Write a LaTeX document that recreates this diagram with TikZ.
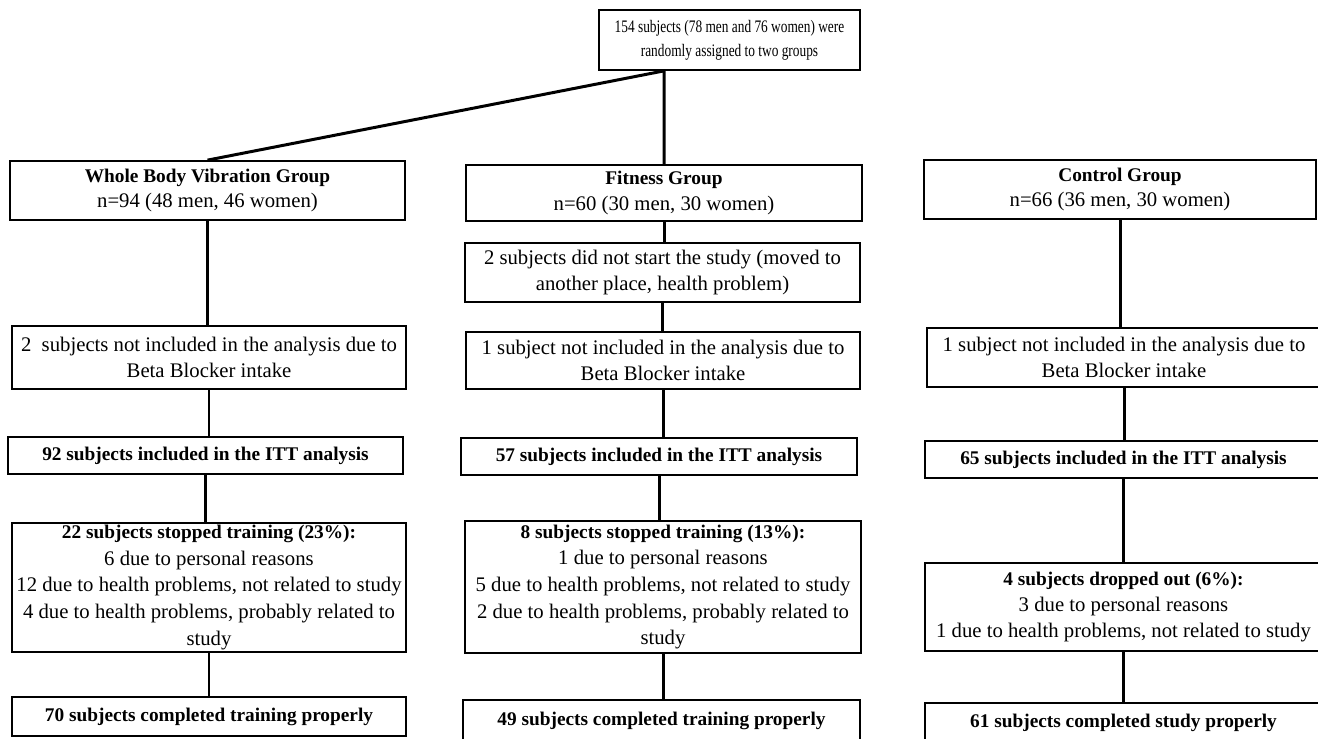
\documentclass[tikz,border=0pt]{standalone}
\usepackage{fontspec}
\setmainfont{Liberation Serif}
\newfontfamily\narrowfont[FakeStretch=0.76]{Liberation Serif}
\usepackage{tikz}
\usetikzlibrary{positioning}
\usepackage{xcolor}

\newcommand{\regfont}{\fontsize{11.8}{14.7}\selectfont}
\newcommand{\hd}[1]{{\fontsize{11}{14.7}\selectfont\bfseries #1}}

\tikzset{
  box/.style={draw,line width=1pt,inner sep=0pt,align=center,font=\regfont},
  link/.style={line width=1.7pt},
}

\begin{document}
\begin{tikzpicture}[x=0.02cm,y=-0.02cm]
\useasboundingbox (0,0) rectangle (1318,738);
% top
\node[box,minimum width=5.22cm,minimum height=1.2cm,font=\narrowfont\fontsize{10}{13.6}\selectfont] (top) at (729.5,40) {154 subjects (78 men and 76 women) were\\randomly assigned to two groups};
% whole body vibration
\node[box,minimum width=7.9cm,minimum height=1.18cm] (g1) at (207.5,190.5) {\hd{Whole Body Vibration Group}\\n=94 (48 men, 46 women)};
\node[box,minimum width=7.88cm,minimum height=1.26cm] (a1) at (209,357.5) {2\ \ subjects not included in the analysis due to\\Beta Blocker intake};
\node[box,minimum width=7.9cm,minimum height=0.74cm] (i1) at (205.5,455.5) {\hd{92 subjects included in the ITT analysis}};
\node[box,minimum width=7.88cm,minimum height=2.58cm,font=\fontsize{11.8}{15.1}\selectfont] (s1) at (209,587.5) {\hd{22 subjects stopped training (23\%):}\\6 due to personal reasons\\12 due to health problems, not related to study\\4 due to health problems, probably related to\\study};
\node[box,minimum width=7.88cm,minimum height=0.78cm] (c1) at (209,716.5) {\hd{70 subjects completed training properly}};
% fitness
\node[box,minimum width=7.92cm,minimum height=1.12cm] (g2) at (664,193) {\hd{Fitness Group}\\n=60 (30 men, 30 women)};
\node[box,minimum width=7.9cm,minimum height=1.18cm] (d2) at (662.5,272.5) {2 subjects did not start the study (moved to\\another place, health problem)};
\node[box,minimum width=7.88cm,minimum height=1.14cm] (a2) at (663,360.5) {1 subject not included in the analysis due to\\Beta Blocker intake};
\node[box,minimum width=7.92cm,minimum height=0.74cm] (i2) at (659,456.5) {\hd{57 subjects included in the ITT analysis}};
\node[box,minimum width=7.92cm,minimum height=2.64cm,font=\fontsize{11.8}{15.1}\selectfont] (s2) at (663,587) {\hd{8 subjects stopped training (13\%):}\\1 due to personal reasons\\5 due to health problems, not related to study\\2 due to health problems, probably related to\\study};
\node[box,minimum width=7.94cm,minimum height=0.84cm] (c2) at (661.5,721) {\hd{49 subjects completed training properly}};
% control
\node[box,minimum width=7.84cm,minimum height=1.18cm] (g3) at (1120,189.5) {\hd{Control Group}\\n=66 (36 men, 30 women)};
\node[box,minimum width=7.88cm,minimum height=1.18cm] (a3) at (1124,357.5) {1 subject not included in the analysis due to\\Beta Blocker intake};
\node[box,minimum width=7.94cm,minimum height=0.74cm] (i3) at (1123.5,459.5) {\hd{65 subjects included in the ITT analysis}};
\node[box,minimum width=7.94cm,minimum height=1.76cm] (s3) at (1123.5,607) {\hd{4 subjects dropped out (6\%):}\\3 due to personal reasons\\1 due to health problems, not related to study};
\node[box,minimum width=7.94cm,minimum height=0.8cm] (c3) at (1123.5,723) {\hd{61 subjects completed study properly}};
% connectors
\coordinate (split) at (top.south -| g2.north);
\draw[link] (g1.north) -- (split) -- (g2.north);
\foreach \u/\v in {g1/a1,a1/i1,i1/s1,s1/c1,g2/d2,d2/a2,a2/i2,i2/s2,s2/c2,g3/a3,a3/i3,i3/s3,s3/c3}
  \draw[link] (\u.south) -- (\u.south |- \v.north);
\end{tikzpicture}
\end{document}
